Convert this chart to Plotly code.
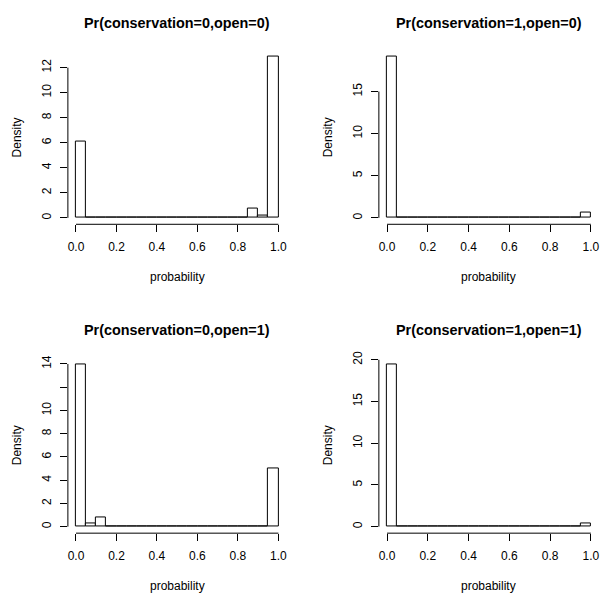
import plotly.graph_objects as go

bin_edges = [i * 0.05 for i in range(21)]
bin_centers = [(bin_edges[i] + bin_edges[i + 1]) / 2 for i in range(20)]

titles = ["Pr(conservation=0,open=0)", "Pr(conservation=1,open=0)",
          "Pr(conservation=0,open=1)", "Pr(conservation=1,open=1)"]

dens_00 = [6.1, 0.02, 0.01, 0.01, 0.01, 0.01, 0.01, 0.01, 0.01, 0.01,
           0.01, 0.01, 0.01, 0.02, 0.02, 0.02, 0.03, 0.75, 0.22, 12.85]
dens_10 = [19.1, 0.03, 0.02, 0.01, 0.01, 0.01, 0.01, 0.01, 0.01, 0.01,
           0.01, 0.01, 0.01, 0.01, 0.01, 0.01, 0.01, 0.04, 0.04, 0.65]
dens_01 = [14.0, 0.25, 0.75, 0.02, 0.02, 0.02, 0.02, 0.01, 0.01, 0.01,
           0.01, 0.01, 0.01, 0.01, 0.01, 0.01, 0.01, 0.02, 0.04, 5.0]
dens_11 = [19.5, 0.08, 0.05, 0.02, 0.01, 0.01, 0.01, 0.01, 0.01, 0.01,
           0.01, 0.01, 0.01, 0.01, 0.01, 0.01, 0.01, 0.01, 0.02, 0.35]

x_ticks = [0.0, 0.2, 0.4, 0.6, 0.8, 1.0]
x_ticktext = ["0.0", "0.2", "0.4", "0.6", "0.8", "1.0"]

y_ticks_00 = [0, 2, 4, 6, 8, 10, 12]
y_ticks_10 = [0, 5, 10, 15]
y_ticks_01 = [0, 2, 4, 6, 8, 10, 12, 14]
y_ticktext_01 = ["0", "2", "4", "6", "8", "10", "", "14"]
y_ticks_11 = [0, 5, 10, 15, 20]

x_label = "probability"
y_label = "Density"

W, H = 603, 598
# plot regions in pixels (left, right, top, bottom)
regions = [(68, 287, 45, 220.5), (379.5, 600, 45, 220.5),
           (68, 287, 355, 532.5), (379.5, 600, 355, 532.5)]

panels = [
    (dens_00, y_ticks_00, [str(v) for v in y_ticks_00]),
    (dens_10, y_ticks_10, [str(v) for v in y_ticks_10]),
    (dens_01, y_ticks_01, y_ticktext_01),
    (dens_11, y_ticks_11, [str(v) for v in y_ticks_11]),
]

FONT = "Liberation Sans, Arial, sans-serif"
fig = go.Figure()
layout = dict(width=W, height=H, margin=dict(l=0, r=0, t=0, b=0),
              paper_bgcolor="white", plot_bgcolor="white", showlegend=False,
              bargap=0, font=dict(family=FONT, size=12, color="black"))
shapes = []
annotations = []

for i, ((dens, yt, ytt), (l, r, t, b)) in enumerate(zip(panels, regions)):
    n = i + 1
    xa = "x" if n == 1 else f"x{n}"
    ya = "y" if n == 1 else f"y{n}"
    fig.add_trace(go.Bar(x=bin_centers, y=dens, width=0.05,
                         marker=dict(color="white", line=dict(color="black", width=1)),
                         xaxis=xa, yaxis=ya, hoverinfo="skip"))
    ymax = max(dens)
    layout[f"xaxis{'' if n == 1 else n}"] = dict(
        domain=[l / W, r / W], anchor=ya, range=[-0.04, 1.04],
        tickvals=x_ticks, ticktext=x_ticktext, ticks="outside", ticklen=7,
        tickcolor="black", tickwidth=1, showline=False, showgrid=False,
        zeroline=False, tickfont=dict(size=12, family=FONT), ticklabelstandoff=4,
        fixedrange=True)
    layout[f"yaxis{'' if n == 1 else n}"] = dict(
        domain=[1 - b / H, 1 - t / H], anchor=xa, range=[-0.04 * ymax, 1.04 * ymax],
        tickvals=yt, ticktext=ytt, ticks="outside", ticklen=7, tickangle=-90,
        tickcolor="black", tickwidth=1, showline=False, showgrid=False,
        zeroline=False, tickfont=dict(size=12, family=FONT), ticklabelstandoff=4,
        fixedrange=True)
    # axis lines spanning first to last tick (R style)
    shapes.append(dict(type="line", xref=xa, yref=f"{ya} domain",
                       x0=x_ticks[0], x1=x_ticks[-1], y0=0, y1=0,
                       line=dict(color="black", width=1)))
    shapes.append(dict(type="line", xref=f"{xa} domain", yref=ya,
                       x0=0, x1=0, y0=yt[0], y1=yt[-1],
                       line=dict(color="black", width=1)))
    cx = (l + r) / 2 / W
    annotations.append(dict(text=f"<b>{titles[i]}</b>", xref="paper", yref="paper",
                            x=cx, y=1 - (t - 28) / H, xanchor="center", yanchor="middle",
                            showarrow=False, font=dict(size=14.4, family=FONT)))
    annotations.append(dict(text=x_label, xref="paper", yref="paper",
                            x=cx, y=1 - (b + 53) / H, xanchor="center", yanchor="middle",
                            showarrow=False, font=dict(size=12, family=FONT)))
    annotations.append(dict(text=y_label, xref="paper", yref="paper",
                            x=(l - 51) / W, y=1 - (t + b) / 2 / H, xanchor="center",
                            yanchor="middle", textangle=-90,
                            showarrow=False, font=dict(size=12, family=FONT)))

layout["shapes"] = shapes
layout["annotations"] = annotations
fig.update_layout(**layout)
fig.write_html("out.html")
